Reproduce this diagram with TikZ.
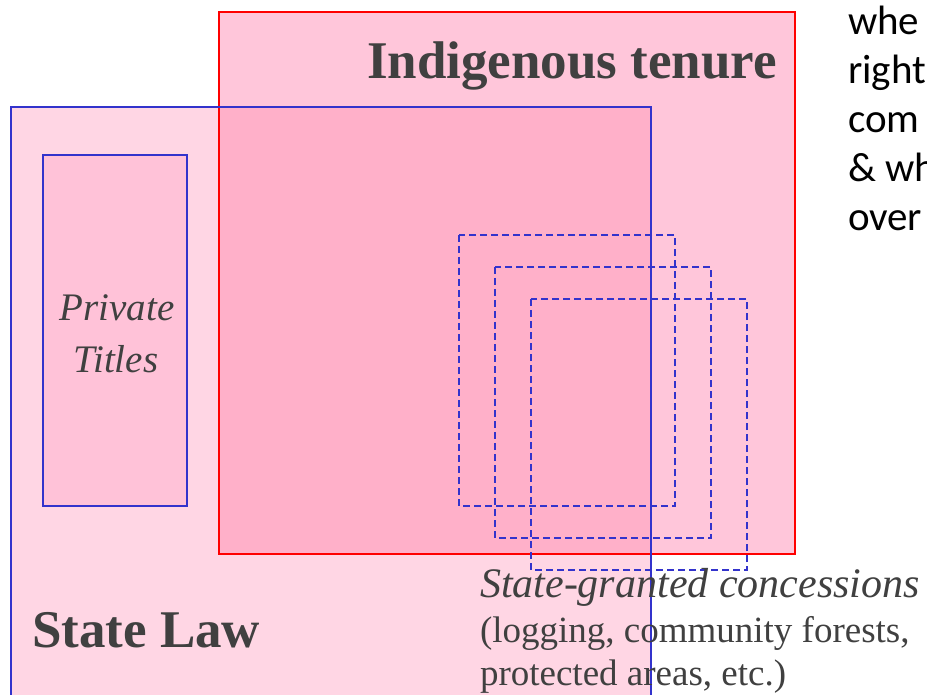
\documentclass[tikz,border=0pt]{standalone}
\usepackage{fontspec}
\setmainfont{Liberation Serif}
\newfontfamily\calib{Carlito}
\definecolor{stateFill}{RGB}{255,214,228}
\definecolor{indFill}{RGB}{255,198,218}
\definecolor{overFill}{RGB}{255,176,201}
\definecolor{privFill}{RGB}{255,194,216}
\definecolor{blueLine}{RGB}{51,51,204}
\definecolor{redLine}{RGB}{255,0,0}
\definecolor{txtGray}{RGB}{64,64,64}
\begin{document}
\begin{tikzpicture}[x=1pt,y=-1pt,
  redbox/.style={draw=redLine,line width=2pt},
  bluebox/.style={draw=blueLine,line width=2pt},
  concbox/.style={draw=blueLine,line width=1.8pt,dash pattern=on 7pt off 4pt},
  lbl/.style={inner sep=0pt,outer sep=0pt,text=txtGray},
  bigbold/.style={lbl,font=\fontsize{53}{60}\selectfont\bfseries},
  privlbl/.style={lbl,font=\fontsize{39}{45}\selectfont\itshape},
  conc1/.style={lbl,font=\fontsize{42}{48}\selectfont\itshape},
  conc2/.style={lbl,font=\fontsize{37}{43}\selectfont},
  side/.style={inner sep=0pt,outer sep=0pt,text=black,font=\calib\fontsize{41}{49}\selectfont}]
\clip (0,0) rectangle (927,695);
\fill[white] (0,0) rectangle (927,695);
% fills
\fill[stateFill] (11,107) rectangle (651,720);
\fill[indFill] (219,12) rectangle (795,554);
\fill[overFill] (219,107) rectangle (651,554);
% borders
\draw[redbox] (219,12) rectangle (795,554);
\draw[bluebox] (11,107) rectangle (651,720);
\draw[bluebox,fill=privFill] (43,155) rectangle (187,506);
% concessions
\draw[concbox] (459,235) rectangle (675,506);
\draw[concbox] (495,267) rectangle (711,538);
\draw[concbox] (531,299) rectangle (747,570);
% labels
\node[bigbold,anchor=base west] (ind) at (367,79) {Indigenous tenure};
\node[bigbold,anchor=base west] (state) at (32,647) {State Law};
\node[privlbl,anchor=base] (priv1) at (117,320) {Private};
\node[privlbl,anchor=base] (priv2) at (116,372) {Titles};
\node[conc1,anchor=base west] (c1) at (480,597) {State-granted concessions};
\node[conc2,anchor=base west] (c2) at (480,642) {(logging, community forests,};
\node[conc2,anchor=base west] (c3) at (480,685) {protected areas, etc.)};
% side text (cut off at the right edge)
\node[side,anchor=base west] (s1) at (848,35) {whe};
\node[side,anchor=base west] (s2) at (848,84) {right};
\node[side,anchor=base west] (s3) at (848,133) {com};
\node[side,anchor=base west] (s4) at (848,182) {\& wh};
\node[side,anchor=base west] (s5) at (848,231) {over};
\end{tikzpicture}
\end{document}
